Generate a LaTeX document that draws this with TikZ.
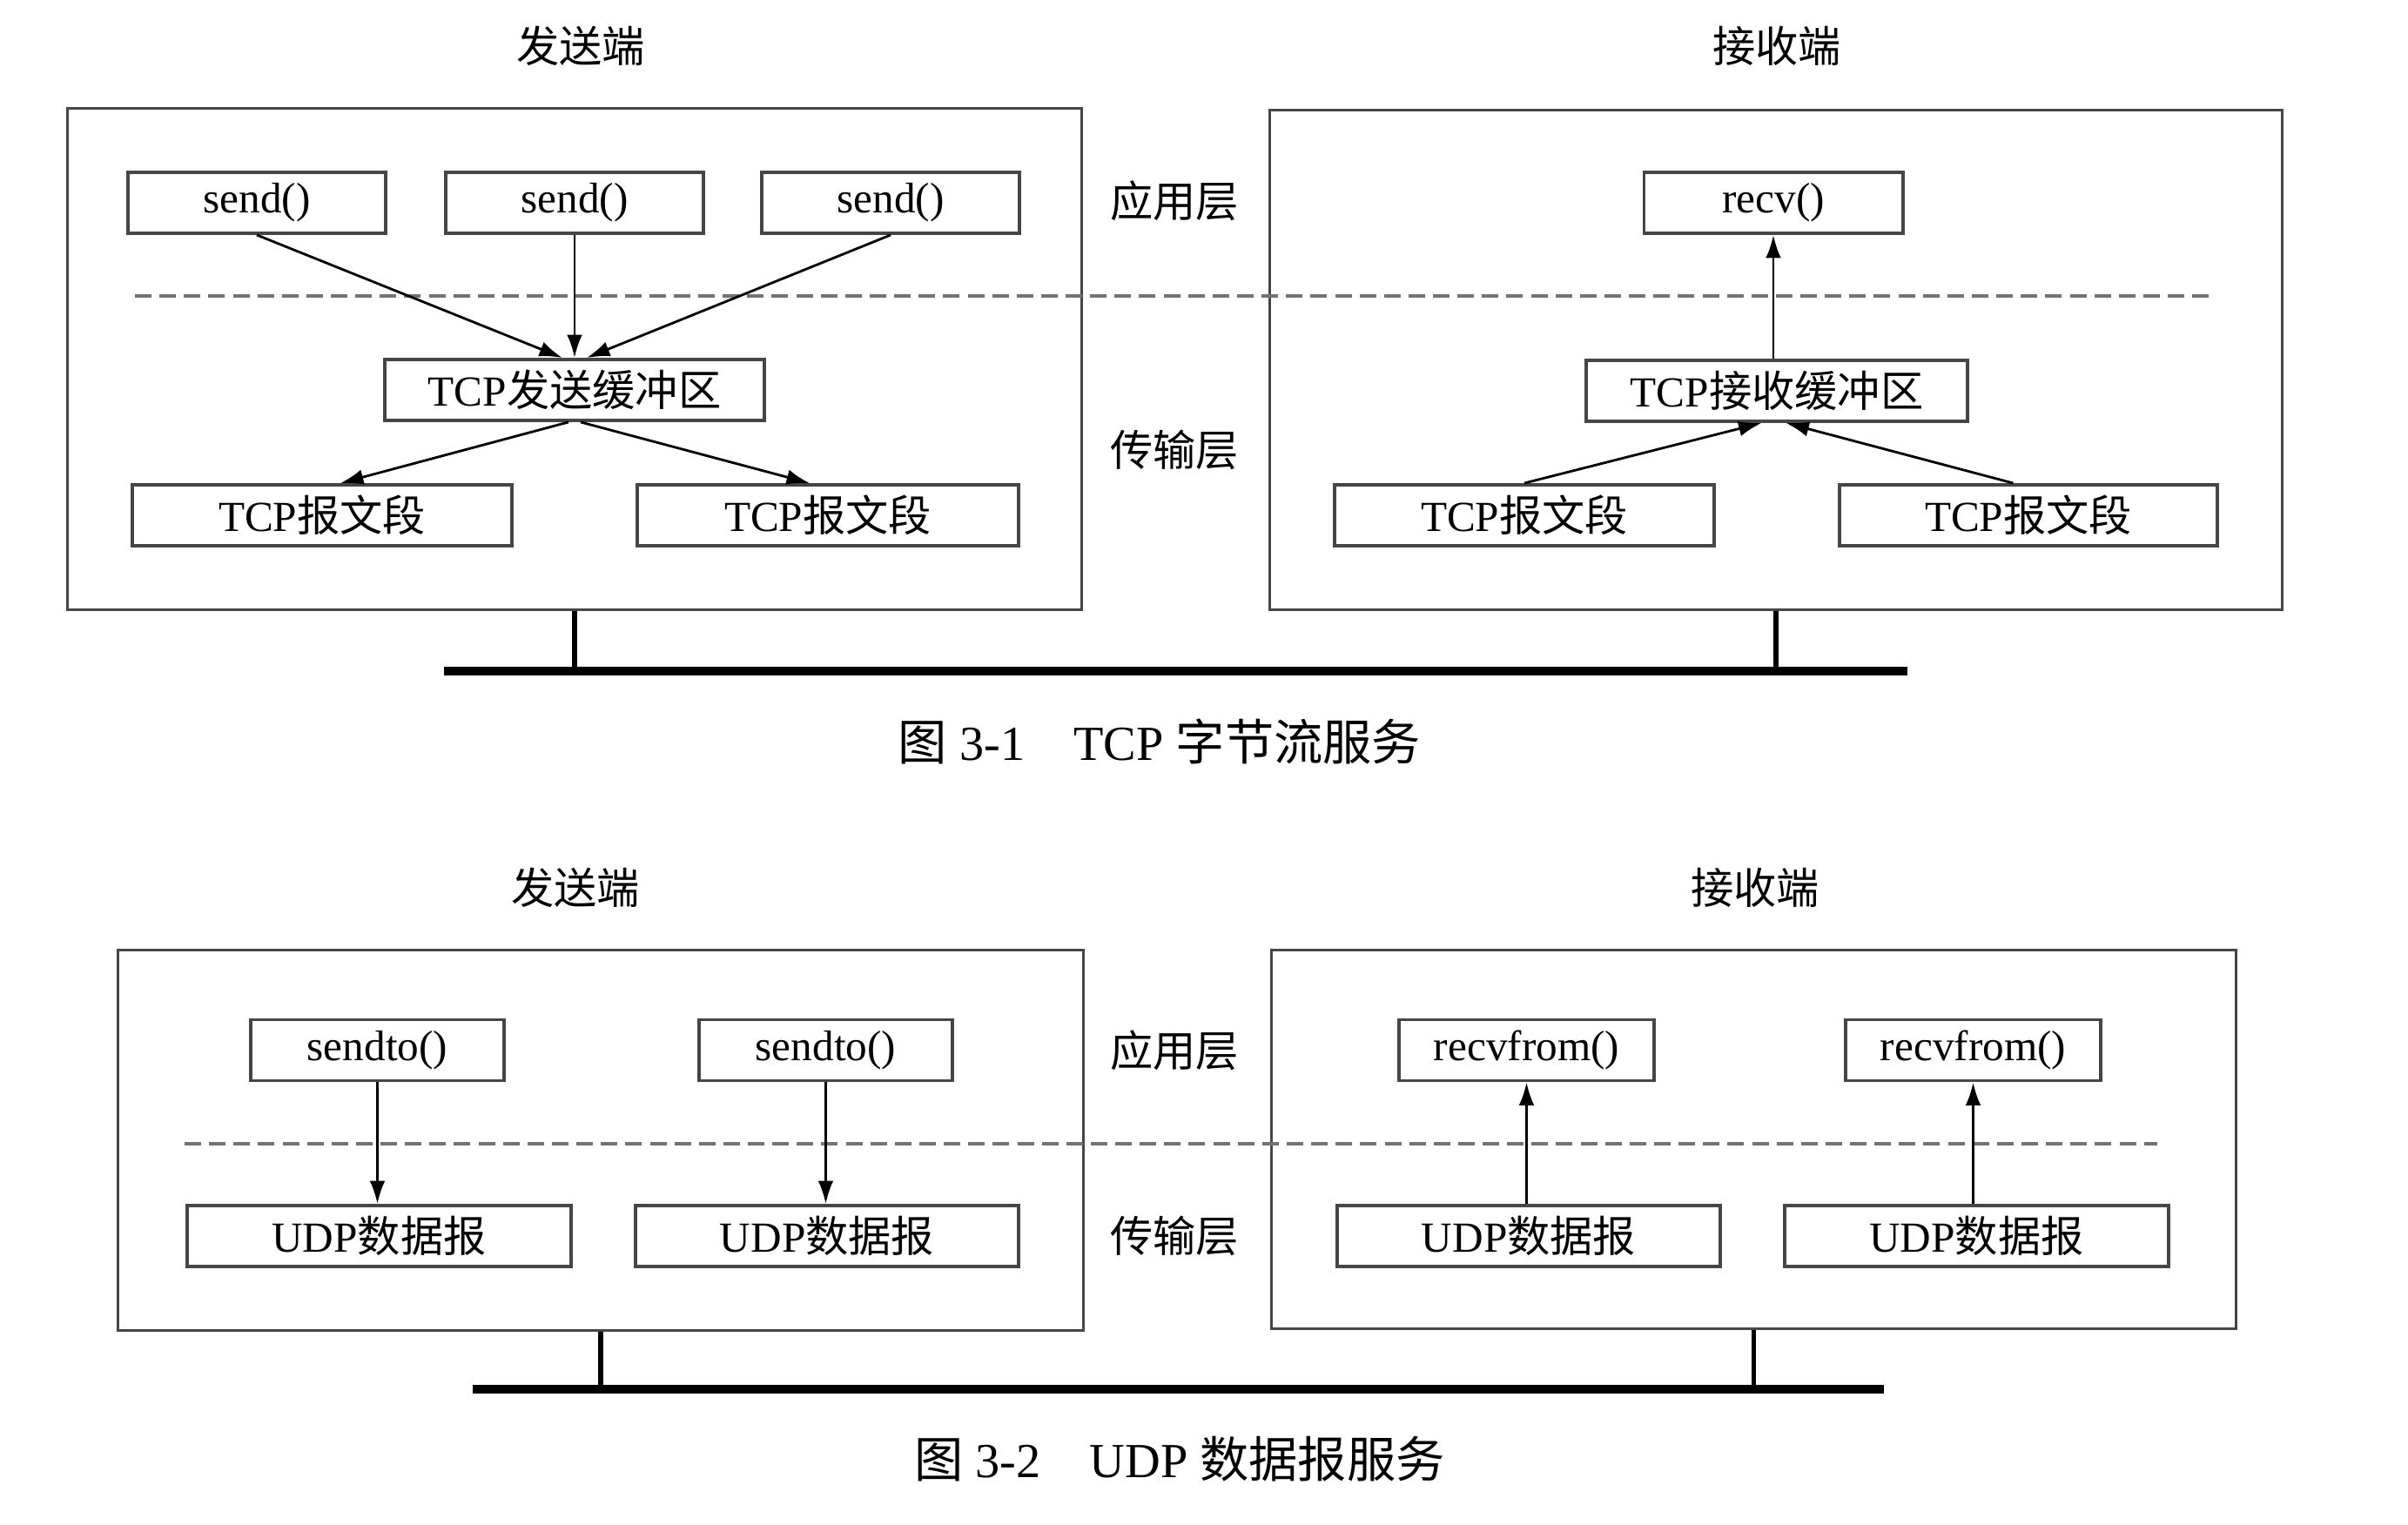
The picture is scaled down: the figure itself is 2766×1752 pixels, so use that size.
\documentclass[tikz,border=0pt]{standalone}
\usepackage{fontspec}
\setmainfont{Liberation Serif}
\newfontfamily\cjk{Noto Sans CJK SC}
\usetikzlibrary{arrows.meta}
\definecolor{BoxGray}{RGB}{70,70,70}
\definecolor{DashGray}{RGB}{115,115,115}

\begin{document}
\begin{tikzpicture}[x=0.01cm,y=-0.01cm,
	font=\fontsize{14}{16}\selectfont,
	box/.style={draw=BoxGray,line width=1.1pt,minimum height=0.70cm,inner sep=0pt},
	host/.style={draw=BoxGray,line width=0.8pt,inner sep=0pt},
	flow/.style={-{Latex[length=7.5pt,width=5pt]},line width=0.8pt},
	layerline/.style={DashGray,line width=1pt,dash pattern=on 5.4pt off 2.6pt},
	bus/.style={line width=3pt},
	stem/.style={line width=1.6pt},
	caption/.style={font=\fontsize{16}{19}\selectfont}
	]
	\useasboundingbox (0,0) rectangle (2766,1752);
	
	% ===== 图 3-1 =====
	% 主机
	\node[host,minimum width=11.64cm,minimum height=5.75cm] (tcpS) at (660,412.5) {};
	\node[host,minimum width=11.62cm,minimum height=5.73cm] (tcpR) at (2040,413.5) {};
	\node (tcpSname) at (667,53) {\cjk 发送端};
	\node (tcpRname) at (2041,53) {\cjk 接收端};
	
	% 分层虚线与层名
	\coordinate (dashA1) at (155,340);
	\coordinate (dashA2) at (2545,340);
	\draw[layerline] (dashA1) -- (dashA2);
	\node (appA) at (1349,231) {\cjk 应用层};
	\node (transA) at (1349,517) {\cjk 传输层};
	
	% 发送端
	\node[box,minimum width=2.95cm] (send1) at (295,233) {send()};
	\node[box,minimum width=2.95cm] (send2) at (660,233) {send()};
	\node[box,minimum width=2.95cm] (send3) at (1023,233) {send()};
	\node[box,minimum width=4.35cm] (sbuf) at (660,448) {TCP{\cjk 发送缓冲区}};
	\node[box,minimum width=4.35cm] (seg1) at (370,592) {TCP{\cjk 报文段}};
	\node[box,minimum width=4.38cm] (seg2) at (951,592) {TCP{\cjk 报文段}};
	\draw[flow] (send1.south) -- ([xshift=-4pt]sbuf.north);
	\draw[flow] (send2.south) -- (sbuf.north);
	\draw[flow] (send3.south) -- ([xshift=4pt]sbuf.north);
	\draw[flow] ([xshift=-2pt]sbuf.south) -- ([xshift=6pt]seg1.north);
	\draw[flow] ([xshift=2pt]sbuf.south) -- ([xshift=-6pt]seg2.north);
	
	% 接收端
	\node[box,minimum width=2.97cm] (recv) at (2037,233) {recv()};
	\node[box,minimum width=4.38cm] (rbuf) at (2041,449) {TCP{\cjk 接收缓冲区}};
	\node[box,minimum width=4.36cm] (seg3) at (1751,592) {TCP{\cjk 报文段}};
	\node[box,minimum width=4.34cm] (seg4) at (2330,592) {TCP{\cjk 报文段}};
	\draw[flow] (rbuf.north -| recv.south) -- (recv.south);
	\draw[flow] (seg3.north) -- ([xshift=-5pt]rbuf.south);
	\draw[flow] ([xshift=-5pt]seg4.north) -- ([xshift=3pt]rbuf.south);
	
	% 网络
	\coordinate (busA1) at (510,771);
	\coordinate (busA2) at (2191,771);
	\draw[bus] (busA1) -- (busA2);
	\draw[stem] (tcpS.south) -- (tcpS.south |- busA1);
	\draw[stem] (tcpR.south) -- (tcpR.south |- busA1);
	
	\node[caption] (capA) at (1332,852) {{\cjk 图}~3-1\hspace{1em}TCP {\cjk 字节流服务}};
	
	% ===== 图 3-2 =====
	% 主机
	\node[host,minimum width=11.08cm,minimum height=4.36cm] (udpS) at (690,1310) {};
	\node[host,minimum width=11.07cm,minimum height=4.34cm] (udpR) at (2014.5,1309) {};
	\node (udpSname) at (661,1020) {\cjk 发送端};
	\node (udpRname) at (2016,1020) {\cjk 接收端};
	
	% 分层虚线与层名
	\coordinate (dashB1) at (212,1314);
	\coordinate (dashB2) at (2478,1314);
	\draw[layerline] (dashB1) -- (dashB2);
	\node (appB) at (1349,1207) {\cjk 应用层};
	\node (transB) at (1349,1420) {\cjk 传输层};
	
	% 发送端
	\node[box,minimum width=2.91cm] (sendto1) at (433.5,1206.5) {sendto()};
	\node[box,minimum width=2.91cm] (sendto2) at (948.5,1206.5) {sendto()};
	\node[box,minimum width=4.41cm] (udp1) at (435.5,1420) {UDP{\cjk 数据报}};
	\node[box,minimum width=4.40cm] (udp2) at (950,1420) {UDP{\cjk 数据报}};
	\draw[flow] (sendto1.south) -- (sendto1.south |- udp1.north);
	\draw[flow] (sendto2.south) -- (sendto2.south |- udp2.north);
	
	% 接收端
	\node[box,minimum width=2.93cm] (rfrom1) at (1753.5,1206.5) {recvfrom()};
	\node[box,minimum width=2.93cm] (rfrom2) at (2266.5,1206.5) {recvfrom()};
	\node[box,minimum width=4.40cm] (udp3) at (1756,1420) {UDP{\cjk 数据报}};
	\node[box,minimum width=4.41cm] (udp4) at (2270.5,1420) {UDP{\cjk 数据报}};
	\draw[flow] (udp3.north -| rfrom1.south) -- (rfrom1.south);
	\draw[flow] (udp4.north -| rfrom2.south) -- (rfrom2.south);
	
	% 网络
	\coordinate (busB1) at (543,1596);
	\coordinate (busB2) at (2164,1596);
	\draw[bus] (busB1) -- (busB2);
	\draw[stem] (udpS.south) -- (udpS.south |- busB1);
	\draw[stem] (udpR.south) -- (udpR.south |- busB1);
	
	\node[caption] (capB) at (1355,1676) {{\cjk 图}~3-2\hspace{1em}UDP {\cjk 数据报服务}};
\end{tikzpicture}
\end{document}
